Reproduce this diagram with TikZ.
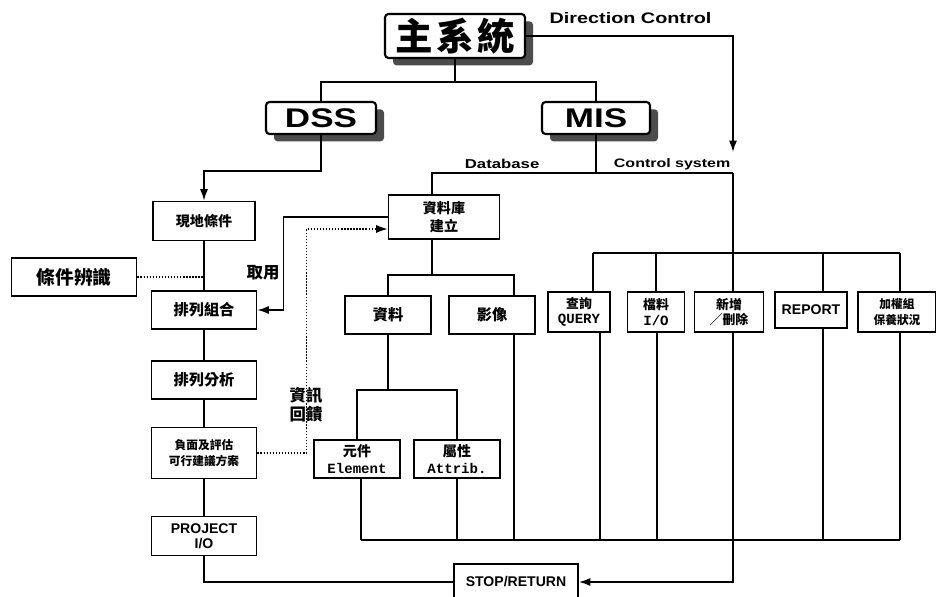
\documentclass[tikz,border=0pt]{standalone}
\usepackage{fontspec}
\setmainfont{Liberation Sans}[FakeStretch=1.3]
\newfontfamily\cjk{Noto Sans CJK TC}
\newfontfamily\tyfont{Liberation Mono}
\newfontfamily\narrowsans{Liberation Sans}
\usetikzlibrary{arrows.meta,positioning,shadows}

\begin{document}
\begin{tikzpicture}[
    x=0.03cm, y=-0.03cm,
    box/.style={draw,line width=1.6pt,align=center,inner sep=1pt,fill=white},
    topbox/.style={box,rounded corners=3pt,line width=1.8pt,
        drop shadow={shadow xshift=0.24cm,shadow yshift=-0.22cm,fill=black!70,opacity=1}},
    colbox/.style={box,minimum width=3.15cm,minimum height=1.14cm},
    treebox/.style={box,minimum width=2.6cm,minimum height=1.12cm},
    ctlbox/.style={box,minimum height=1.2cm},
    zh/.style={font=\cjk\bfseries\fontsize{#1}{#1}\selectfont},
    lbl/.style={font=\bfseries\fontsize{11}{12}\selectfont},
    dotline/.style={line width=1pt,dash pattern=on 1.2pt off 1.4pt},
    >={Latex[length=3.4mm,width=2.4mm]},
    line width=1.3pt,
]
    \useasboundingbox (0,0) rectangle (936,597);

    % top level
    \node[topbox,minimum width=4.2cm,minimum height=1.32cm,zh=32] (sys) at (455,36) {主\hspace{3pt}系\hspace{3pt}統};
    \node[topbox,minimum width=3.3cm,minimum height=0.96cm,font=\bfseries\fontsize{23}{24}\selectfont] (dss) at (321,118) {DSS};
    \node[topbox,minimum width=3.24cm,minimum height=0.96cm,font=\bfseries\fontsize{23}{24}\selectfont] (mis) at (596,118) {MIS};

    \node[lbl,anchor=west,font=\bfseries\fontsize{13}{14}\selectfont] (dirlbl) at (545,18) {Direction Control};
    \node[lbl,anchor=east] (dblbl) at (544,164) {Database};
    \node[lbl,anchor=east,font=\bfseries\fontsize{10.5}{12}\selectfont] (ctllbl) at (735,164) {Control system};

    % DSS column
    \node[colbox,minimum width=3.06cm,minimum height=1.17cm,zh=12] (site) at (204,221) {現地條件};
    \node[box,minimum width=3.75cm,minimum height=1.14cm,zh=16] (ident) at (74,277) {條件辨識};
    \node[colbox,zh=13] (combo) at (204,310) {排列組合};
    \node[colbox,zh=13] (anal) at (204,380) {排列分析};
    \node[colbox,minimum height=1.53cm,zh=10] (eval) at (204,453) {負面及評估\\[3pt]可行建議方案};
    \node[colbox,minimum height=1.17cm,font=\narrowsans\bfseries\fontsize{12}{13}\selectfont] (proj) at (204,536) {PROJECT\\I/O};

    \node[zh=14] (use) at (263,273) {取用};
    \node[zh=14,align=center] (feedback) at (306,405) {資訊\\[2pt]回饋};

    % database tree
    \node[box,minimum width=3.33cm,minimum height=1.32cm,zh=12] (db) at (444,217) {資料庫\\[3pt]建立};
    \node[treebox,zh=13] (data) at (388,315) {資料};
    \node[treebox,zh=13] (img) at (492,315) {影像};
    \node[treebox,zh=12] (elem) at (357,459) {元件\\[2pt]{\tyfont\bfseries\fontsize{12}{12}\selectfont Element}};
    \node[treebox,zh=12] (attr) at (457,459) {屬性\\[2pt]{\tyfont\bfseries\fontsize{12}{12}\selectfont Attrib.}};

    % control system row
    \node[ctlbox,minimum width=1.86cm,zh=11] (query) at (579,312) {查詢\\[2pt]{\tyfont\bfseries\fontsize{12}{12}\selectfont QUERY}};
    \node[ctlbox,minimum width=1.71cm,zh=11] (io) at (656,312) {檔料\\[2pt]{\tyfont\bfseries\fontsize{12}{12}\selectfont I/O}};
    \node[ctlbox,minimum width=2.07cm,zh=11] (addel) at (729,312) {新增\\[2pt]／刪除};
    \node[box,minimum width=2.16cm,minimum height=1.08cm,font=\narrowsans\bfseries\fontsize{12}{13}\selectfont] (report) at (811,310) {REPORT};
    \node[ctlbox,minimum width=2.34cm,zh=10] (maint) at (897,312) {加權組\\[3pt]保養狀況};

    \node[box,minimum width=3.72cm,minimum height=1.08cm,font=\narrowsans\bfseries\fontsize{12}{13}\selectfont] (stop) at (516,582) {STOP/RETURN};

    % connectors
    \coordinate (topj) at (455,82);
    \draw (sys.south) -- (topj);
    \draw (dss.north) |- (topj) -| (mis.north);
    \draw[->] (dss.south) -- ++(0,36) -| (site.north);

    \coordinate (ctlarrow) at (733,152);
    \draw[->] (sys.east) -| (ctlarrow);

    \coordinate (dbj) at (432,173);
    \coordinate (ctl) at (733,173);
    \draw (db.north -| dbj) |- (ctl);
    \draw (mis.south) -- (mis.south |- ctl);
    \draw (ctl) -- (addel.north -| ctl);

    \draw (593,253) -- (900,253);
    \foreach \n/\x in {query/593,io/656,report/823,maint/900}
        \draw (\x,253) -- (\n.north -| \x,0);

    \coordinate (dbbot) at (432,275);
    \coordinate (imgx) at (514,275);
    \draw (db.south -| dbbot) -- (dbbot);
    \draw (data.north) |- (imgx) -- (imgx |- img.north);

    \coordinate (datj) at (388,390);
    \draw (data.south) -- (datj);
    \draw (elem.north) |- (datj) -| (attr.north);

    \foreach \n/\x in {elem/361,attr/457,img/514,query/600,io/657,report/823,maint/900}
        \draw (\n.south -| \x,0) -- (\x,540);
    \draw (361,540) -- (900,540);
    \draw[->] (addel.south -| ctl) |- (stop.east);

    \draw (site) -- (combo) -- (anal) -- (eval) -- (proj);
    \draw (proj.south) |- (stop.west);
    \draw[dotline] (ident.east) -- (ident.east -| site.south);
    \draw[->] (db.west) -- ++(-104,0) |- (combo.east);
    \draw[dotline,->] (eval.east) -- ++(49,0) |- ([yshift=-0.36cm]db.west);
\end{tikzpicture}
\end{document}
